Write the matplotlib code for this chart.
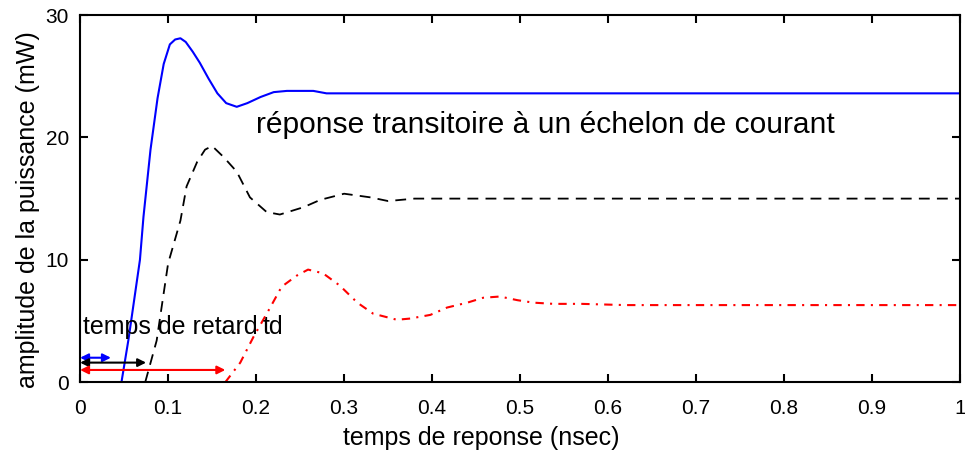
import matplotlib
matplotlib.use("Agg")
import matplotlib.pyplot as plt

plt.rcParams['font.family'] = ['Liberation Sans', 'DejaVu Sans']

# courbe bleue (echelon fort)
t_bleu = [0.047, 0.055, 0.062, 0.068, 0.072, 0.080, 0.088, 0.095, 0.102, 0.108,
          0.114, 0.120, 0.128, 0.136, 0.146, 0.156, 0.166, 0.178, 0.190, 0.205,
          0.220, 0.235, 0.250, 0.265, 0.280, 1.0]
p_bleu = [0, 3.5, 7, 10, 13.5, 19, 23.2, 26, 27.6, 28.0,
          28.1, 27.8, 27.0, 26.1, 24.8, 23.6, 22.8, 22.5, 22.8, 23.3,
          23.7, 23.8, 23.8, 23.8, 23.6, 23.6]

# courbe noire (echelon moyen)
t_noir = [0.074, 0.087, 0.100, 0.114, 0.121, 0.133, 0.142, 0.150, 0.163, 0.178,
          0.193, 0.212, 0.227, 0.254, 0.273, 0.300, 0.330, 0.350, 0.380, 1.0]
p_noir = [0, 3.4, 9.7, 13.2, 16.0, 18.0, 19.0, 19.3, 18.4, 17.2,
          15.1, 13.9, 13.7, 14.3, 14.9, 15.4, 15.1, 14.8, 15.0, 15.0]

# courbe rouge (echelon faible)
t_rouge = [0.165, 0.182, 0.197, 0.216, 0.229, 0.246, 0.259, 0.276, 0.295, 0.315,
           0.333, 0.360, 0.375, 0.398, 0.417, 0.440, 0.458, 0.477, 0.497, 0.515,
           0.538, 0.570, 0.620, 1.0]
p_rouge = [0, 1.6, 3.7, 6.1, 7.8, 8.7, 9.2, 8.9, 7.9, 6.5,
           5.6, 5.1, 5.2, 5.5, 6.1, 6.5, 6.9, 7.0, 6.7, 6.5,
           6.4, 6.4, 6.3, 6.3]

# fleches du temps de retard : (fin, hauteur, couleur)
retards = [(0.035, 2.0, 'blue'), (0.075, 1.6, 'black'), (0.165, 1.0, 'red')]

fig = plt.figure(figsize=(9.65, 4.55), dpi=100)
ax = fig.add_axes([0.083, 0.160, 0.912, 0.807])

ax.plot(t_bleu, p_bleu, color='blue', lw=1.5)
ax.plot(t_noir, p_noir, color='black', lw=1.3, linestyle=(0, (6, 4)))
ax.plot(t_rouge, p_rouge, color='red', lw=1.5, linestyle=(0, (4, 3, 1, 3)))

for fin, h, c in retards:
    ax.annotate('', xy=(fin, h), xytext=(0, h),
                arrowprops=dict(arrowstyle='<|-|>', color=c, lw=1.5,
                                shrinkA=0, shrinkB=0, mutation_scale=12))

ax.text(0.003, 4.5, 'temps de retard', fontsize=18, va='center')
ax.text(0.207, 4.5, 'td', fontsize=18, va='center')
ax.text(0.2, 21.0, 'réponse transitoire à un échelon de courant', fontsize=21.6, va='center')

ax.set_xlim(0, 1)
ax.set_ylim(0, 30)
ax.set_xticks([0, 0.1, 0.2, 0.3, 0.4, 0.5, 0.6, 0.7, 0.8, 0.9, 1])
ax.set_xticklabels(['0', '0.1', '0.2', '0.3', '0.4', '0.5', '0.6', '0.7', '0.8', '0.9', '1'])
ax.set_yticks([0, 10, 20, 30])
ax.tick_params(direction='in', top=True, right=True, length=6, width=1.5, labelsize=15)
ax.tick_params(axis='x', pad=12)
ax.tick_params(axis='y', pad=8)
for s in ax.spines.values():
    s.set_linewidth(1.5)

ax.set_xlabel('temps de reponse (nsec)', fontsize=18, labelpad=6, x=0.456)
ax.set_ylabel('amplitude de la puissance (mW)', fontsize=18, labelpad=4, y=0.469)

fig.savefig('out.png', dpi=100)
